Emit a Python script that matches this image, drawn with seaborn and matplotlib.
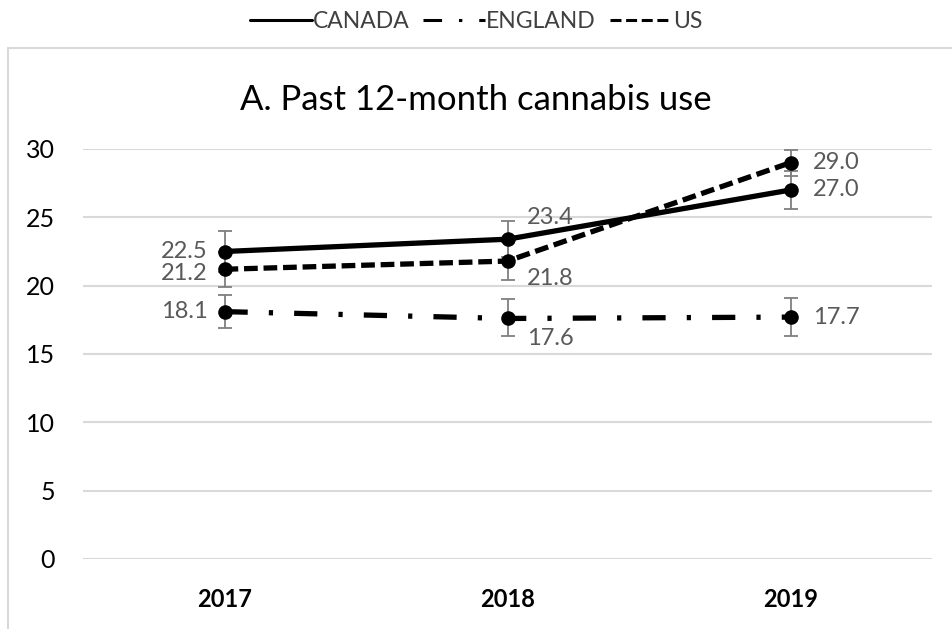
import numpy as np
import pandas as pd
import matplotlib
matplotlib.use("Agg")
import matplotlib.pyplot as plt
import seaborn as sns
from matplotlib.lines import Line2D

years = ["2017", "2018", "2019"]
countries = ["CANADA", "ENGLAND", "US"]
canada = [22.5, 23.4, 27.0]
england = [18.1, 17.6, 17.7]
us = [21.2, 21.8, 29.0]
canada_lo = [21.0, 22.1, 25.6]
canada_hi = [24.0, 24.7, 28.4]
england_lo = [16.9, 16.3, 16.3]
england_hi = [19.3, 19.0, 19.1]
us_lo = [19.9, 20.4, 28.0]
us_hi = [22.5, 23.2, 29.9]
title = "A. Past 12-month cannabis use"

sns.set_theme(style="white")
plt.rcParams['font.family'] = ['Lato', 'DejaVu Sans']

vals = {"CANADA": canada, "ENGLAND": england, "US": us}
los = {"CANADA": canada_lo, "ENGLAND": england_lo, "US": us_lo}
his = {"CANADA": canada_hi, "ENGLAND": england_hi, "US": us_hi}

rows = []
for c in countries:
    for i, y in enumerate(years):
        rows.append({"pos": i, "year": y, "country": c, "value": vals[c][i],
                     "lo": los[c][i], "hi": his[c][i]})
df = pd.DataFrame(rows)

fig = plt.figure(figsize=(9.52, 6.29), dpi=100)
ax = fig.add_axes([83/952, 1-559/629, (932-83)/952, (559-149)/629])

# error bars first (behind lines)
for c in countries:
    d = df[df.country == c]
    ax.errorbar(d.pos, d.value, yerr=[d.value - d.lo, d.hi - d.value],
                fmt="none", ecolor="#7f7f7f", elinewidth=1.3, capsize=5,
                capthick=1.3, zorder=2)

dashes = {"CANADA": "", "ENGLAND": (4.4, 4.0, 0.8, 4.0), "US": (2.6, 1.1)}
sns.lineplot(data=df, x="pos", y="value", style="country", hue="country",
             palette={c: "black" for c in countries},
             dashes=dashes, markers={c: "o" for c in countries},
             markersize=10.5, linewidth=3.8, markeredgewidth=0,
             ax=ax, zorder=3, legend=True, sort=False)

ax.set_xlim(-0.5, 2.5)
ax.set_ylim(0, 30)
ax.set_yticks(np.arange(0, 31, 5))
ax.set_xticks(range(len(years)))
ax.set_xticklabels(years, fontweight="bold", fontsize=17, color="black")
ax.tick_params(axis="y", length=0, pad=20, labelsize=18, labelcolor="black")
ax.tick_params(axis="x", length=0, pad=21)
ax.set_xlabel("")
ax.set_ylabel("")
ax.grid(axis="y", color="#d9d9d9", linewidth=1.5)
ax.grid(axis="x", visible=False)
for s in ax.spines.values():
    s.set_visible(False)
ax.set_axisbelow(True)

# data labels
label_offsets = {
    "CANADA": [(-12, 0, "right", "center"), (14, 8, "left", "bottom"), (16, 0, "left", "center")],
    "US": [(-12, -3, "right", "center"), (14, -5, "left", "top"), (16, 0, "left", "center")],
    "ENGLAND": [(-12, 0, "right", "center"), (14, -7, "left", "top"), (16, 0, "left", "center")],
}
for c in countries:
    for i in range(len(years)):
        dx, dy, ha, va = label_offsets[c][i]
        ax.annotate(f"{vals[c][i]:.1f}", (i, vals[c][i]), xytext=(dx, dy),
                    textcoords="offset points", ha=ha, va=va,
                    fontsize=17, color="#595959", zorder=5)

# legend
h, l = ax.get_legend_handles_labels()
ax.get_legend().remove()
handles = []
for c in countries:
    idx = l.index(c)
    ln = h[idx]
    handles.append(Line2D([0], [0], color="black", linewidth=2.2,
                          linestyle=ln.get_linestyle() if c == "CANADA" else
                          (0, tuple(np.array(dashes[c]) * 3.8 / 2.2 * 0.8))))
fig.legend(handles, countries, loc="center", bbox_to_anchor=(0.5, 1 - 22/629),
           ncol=3, frameon=False, fontsize=16.5, handlelength=2.7,
           handletextpad=0.05, columnspacing=0.6, labelcolor="#404040")

fig.text(0.5, 1 - 100/629, title, ha="center", va="center", fontsize=25,
         color="black")

# outer chart border
fig.add_artist(Line2D([8/952, 1], [1 - 48/629, 1 - 48/629],
                      transform=fig.transFigure, color="#d9d9d9", linewidth=1.5))
fig.add_artist(Line2D([8/952, 8/952], [0, 1 - 48/629],
                      transform=fig.transFigure, color="#d9d9d9", linewidth=1.5))

fig.savefig("out.png", dpi=100)
